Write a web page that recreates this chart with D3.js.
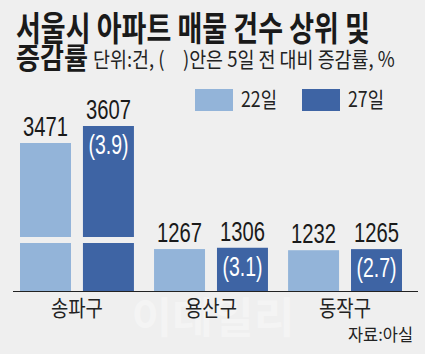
<!DOCTYPE html>
<meta charset="utf-8">
<head>
<title>seoul apt listings</title>
<script src="https://cdn.jsdelivr.net/npm/d3@7"></script>
<style>
  body { margin: 0; background: #efefef; }
  text { font-family: "Noto Sans CJK KR", sans-serif; }
  .num { font-family: "Liberation Sans", Arial, sans-serif; }
</style>
</head>
<body>

<div id="chart"></div>

<script>

const width = 425;
const height = 354;

// data
const categories = ["송파구", "용산구", "동작구"];
const series = ["22일", "27일"];
const values22 = [3471, 1267, 1232];
const values27 = [3607, 1306, 1265];
const changes = [3.9, 3.1, 2.7];   // % vs 5 days earlier

const colors = ["#93b4d9", "#3e64a4"];

const rows = categories.map((c, i) => ({
  name: c,
  vals: [values22[i], values27[i]],
  change: changes[i]
}));

const svg = d3.select("#chart")
  .append("svg")
  .attr("width", width)
  .attr("height", height)
  .attr("viewBox", [0, 0, width, height]);

svg.append("rect")
  .attr("width", width)
  .attr("height", height)
  .attr("fill", "#efefef");

// the original uses a condensed face: scale each text horizontally to its measured width
function squeeze(sel, w) {
  sel.each(function() {
    const k = w / this.getComputedTextLength();
    const x = +this.getAttribute("x");
    this.setAttribute("transform", `translate(${x},0) scale(${k},1) translate(${-x},0)`);
  });
}

// title
svg.append("text")
  .attr("x", 16).attr("y", 41)
  .attr("font-size", 34).attr("font-weight", "bold")
  .attr("fill", "#1a1a1a")
  .text("서울시 아파트 매물 건수 상위 및")
  .call(squeeze, 354);

svg.append("text")
  .attr("x", 16).attr("y", 69)
  .attr("font-size", 29).attr("font-weight", "bold")
  .attr("fill", "#1a1a1a")
  .text("증감률")
  .call(squeeze, 72);

svg.append("text")
  .attr("x", 93).attr("y", 67)
  .attr("font-size", 21)
  .attr("fill", "#222")
  .text("단위:건, (\u2002\u2002)안은 5일 전 대비 증감률, %")
  .call(squeeze, 302);

// legend
const legend = svg.append("g")
  .selectAll("g")
  .data(series)
  .join("g")
  .attr("transform", (d, i) => `translate(${i ? 302 : 195},89)`);

legend.append("rect")
  .attr("width", 38).attr("height", 22)
  .attr("fill", (d, i) => colors[i]);

legend.append("text")
  .attr("x", 46).attr("y", 18)
  .attr("font-size", 21)
  .attr("fill", "#222")
  .text(d => d)
  .call(squeeze, 36);

// scales (broken axis between breakLo and breakHi)
const breakLo = 1450, breakHi = 2719;
const y = d3.scaleLinear()
  .domain([0, breakLo, breakHi, 3607])
  .range([291, 243, 237, 126]);

const x0 = d3.scaleBand()
  .domain(categories)
  .range([20, 402])
  .paddingInner(0.15);

const x1 = d3.scaleBand()
  .domain(series)
  .range([0, x0.bandwidth()])
  .paddingInner(0.19);

// watermark
svg.append("text")
  .attr("x", 213).attr("y", 333)
  .attr("text-anchor", "middle")
  .attr("font-size", 42).attr("font-weight", "bold")
  .attr("fill", "#fff").attr("opacity", 0.35)
  .text("이데일리")
  .call(squeeze, 163);

const bars = rows.flatMap(r => r.vals.map((v, i) => ({
  cat: r.name, key: series[i], i, v, change: r.change
})));

const g = svg.append("g");

// lower part of each bar
g.selectAll("rect.lo")
  .data(bars)
  .join("rect")
  .attr("class", "lo")
  .attr("x", d => x0(d.cat) + x1(d.key))
  .attr("width", x1.bandwidth())
  .attr("y", d => d.v > breakLo ? y(breakLo) : y(d.v))
  .attr("height", d => y(0) - (d.v > breakLo ? y(breakLo) : y(d.v)))
  .attr("fill", d => colors[d.i]);

// upper part above the break
g.selectAll("rect.hi")
  .data(bars.filter(d => d.v > breakHi))
  .join("rect")
  .attr("class", "hi")
  .attr("x", d => x0(d.cat) + x1(d.key))
  .attr("width", x1.bandwidth())
  .attr("y", d => y(d.v))
  .attr("height", d => y(breakHi) - y(d.v))
  .attr("fill", d => colors[d.i]);

// value labels
g.selectAll("text.val")
  .data(bars)
  .join("text")
  .attr("class", "val num")
  .attr("x", d => x0(d.cat) + x1(d.key) + x1.bandwidth() / 2)
  .attr("y", d => y(d.v) - 7)
  .attr("text-anchor", "middle")
  .attr("font-size", 27)
  .attr("fill", "#1a1a1a")
  .text(d => d.v)
  .call(squeeze, 45);

// change labels inside 27일 bars
g.selectAll("text.chg")
  .data(bars.filter(d => d.i === 1))
  .join("text")
  .attr("class", "chg num")
  .attr("x", d => x0(d.cat) + x1(d.key) + x1.bandwidth() / 2)
  .attr("y", d => y(d.v) + 28)
  .attr("text-anchor", "middle")
  .attr("font-size", 27)
  .attr("fill", "#fff")
  .text(d => `(${d.change})`)
  .call(squeeze, 40);

// baseline
svg.append("line")
  .attr("x1", 13).attr("x2", 418)
  .attr("y1", y(0) + 0.5).attr("y2", y(0) + 0.5)
  .attr("stroke", "#222").attr("stroke-width", 1.2);

// category labels
svg.append("g")
  .selectAll("text")
  .data(categories)
  .join("text")
  .attr("x", d => x0(d) + x0.bandwidth() / 2)
  .attr("y", 316)
  .attr("text-anchor", "middle")
  .attr("font-size", 22)
  .attr("fill", "#222")
  .text(d => d)
  .call(squeeze, 52);

// source
svg.append("text")
  .attr("x", 413).attr("y", 341)
  .attr("text-anchor", "end")
  .attr("font-size", 17)
  .attr("fill", "#222")
  .text("자료:아실")
  .call(squeeze, 65);

</script>
</body>
